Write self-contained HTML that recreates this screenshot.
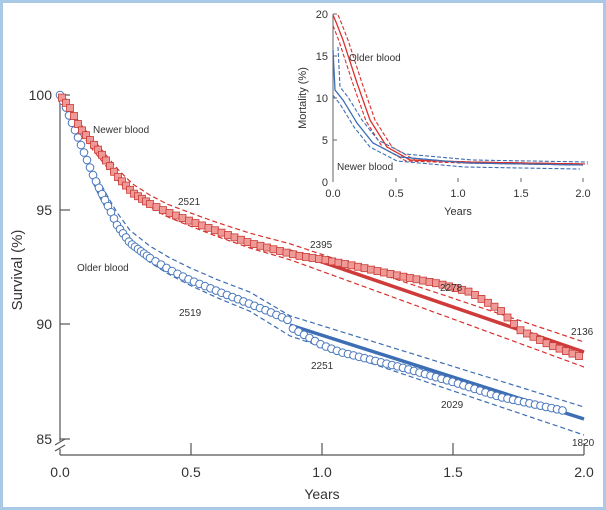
<!DOCTYPE html>
<html><head><meta charset="utf-8"><style>
html,body{margin:0;padding:0;background:#fff}
svg{display:block}
text{font-family:"Liberation Sans",sans-serif;fill:#333}
</style></head><body>
<svg id="s" width="606" height="510" xmlns="http://www.w3.org/2000/svg">
<rect x="1.5" y="1.5" width="603" height="507" fill="#fff" stroke="#a9c9e6" stroke-width="3"/>
<g stroke="#555" stroke-width="1.2" fill="none">
<line x1="60" y1="93" x2="60" y2="441"/><line x1="60" y1="449" x2="60" y2="455"/>
<line x1="60" y1="455" x2="584" y2="455"/>
<path d="M55,445 L65,439 M55,451 L65,445" />
<line x1="60" y1="95" x2="70" y2="95"/><line x1="60" y1="210" x2="70" y2="210"/>
<line x1="60" y1="324" x2="70" y2="324"/><line x1="60" y1="439" x2="70" y2="439"/>
<line x1="191" y1="455" x2="191" y2="443"/><line x1="322" y1="455" x2="322" y2="443"/>
<line x1="453" y1="455" x2="453" y2="443"/><line x1="584" y1="455" x2="584" y2="443"/>
</g>
<g font-size="14" text-anchor="end">
<text x="52" y="100">100</text><text x="52" y="215">95</text><text x="52" y="329">90</text><text x="52" y="444">85</text>
</g>
<g font-size="14" text-anchor="middle">
<text x="60" y="477">0.0</text><text x="191" y="477">0.5</text><text x="322" y="477">1.0</text><text x="453" y="477">1.5</text><text x="584" y="477">2.0</text>
<text x="322" y="499">Years</text>
</g>
<text font-size="15" text-anchor="middle" transform="translate(22,270) rotate(-90)">Survival (%)</text>
<g id="main"></g>
<g font-size="10">
<text x="93" y="133">Newer blood</text><text x="178" y="205">2521</text>
<text x="77" y="271">Older blood</text><text x="179" y="316">2519</text>
<text x="310" y="248">2395</text><text x="440" y="291">2278</text>
<text x="571" y="335">2136</text><text x="311" y="369">2251</text>
<text x="441" y="408">2029</text><text x="572" y="446">1820</text>
</g>
<g stroke="#666" stroke-width="1" fill="none">
<line x1="333" y1="14" x2="333" y2="182"/>
<line x1="333" y1="14" x2="337" y2="14"/><line x1="333" y1="56" x2="337" y2="56"/><line x1="333" y1="98" x2="337" y2="98"/><line x1="333" y1="140" x2="337" y2="140"/>
<line x1="396" y1="182" x2="396" y2="178"/><line x1="458" y1="182" x2="458" y2="178"/><line x1="521" y1="182" x2="521" y2="178"/><line x1="583" y1="182" x2="583" y2="178"/>
</g>
<g font-size="11" text-anchor="end">
<text x="328" y="18">20</text><text x="328" y="60">15</text><text x="328" y="102">10</text><text x="328" y="144">5</text><text x="328" y="186">0</text>
</g>
<g font-size="11" text-anchor="middle">
<text x="333" y="197">0.0</text><text x="396" y="197">0.5</text><text x="458" y="197">1.0</text><text x="521" y="197">1.5</text><text x="583" y="197">2.0</text>
<text x="458" y="215">Years</text>
</g>
<text font-size="11" text-anchor="middle" transform="translate(306,98) rotate(-90)">Mortality (%)</text>
<g id="inset"></g>
<g font-size="10"><text x="349" y="61">Older blood</text><text x="337" y="170">Newer blood</text></g>
</svg>
<script>
var NS="http://www.w3.org/2000/svg";
function interp(pts,x){for(var i=1;i<pts.length;i++){if(x<=pts[i][0]){var a=pts[i-1],b=pts[i],t=(x-a[0])/(b[0]-a[0]);return a[1]+t*(b[1]-a[1]);}}return pts[pts.length-1][1];}
function path(g,d,c,w,dash){var p=document.createElementNS(NS,"path");p.setAttribute("d",d);p.setAttribute("fill","none");p.setAttribute("stroke",c);p.setAttribute("stroke-width",w);if(dash)p.setAttribute("stroke-dasharray",dash);g.appendChild(p);}
function curve(pts,off,x0,x1){var s="";for(var x=x0;x<=x1;x+=2){s+=(s?"L":"M")+x+","+(interp(pts,x)+off(x)).toFixed(1);}return s;}
var m=document.getElementById("main");
var R=[[60,95],[70,108],[80,128],[90,140],[100,152],[117,176],[133,193],[150,204],[167,212],[190,221],[217,231],[250,243],[280,251],[300,256],[325,260],[350,265],[400,276],[440,284],[470,292],[500,310],[520,330],[550,345],[584,358]];
var RM=[[60,95],[70,110],[80,127],[90,141],[100,153],[117,174],[133,190],[150,201],[167,210],[190,219],[217,229],[250,240],[290,251],[584,352]];
var B=[[60,95],[65,105],[70,118],[77,135],[85,155],[93,175],[100,190],[110,210],[117,225],[130,243],[150,258],[170,270],[190,280],[217,291],[240,300],[270,312],[288,320],[292,328],[322,345],[340,352],[360,357],[400,367],[453,382],[500,397],[565,411]];
var BM=[[60,95],[65,105],[70,118],[77,135],[85,155],[93,175],[100,190],[110,208],[117,220],[130,238],[150,254],[170,266],[190,276],[217,288],[250,301],[290,325],[584,419]];
function fr(x){var t=(x-60)/524;return Math.min(1,(x-60)/30)*(5+5*t);}
path(m,curve(RM,function(x){return -fr(x);},62,584),"#d9302c",1.2,"5,3");
path(m,curve(RM,function(x){return fr(x)*(1+0.5*(x-60)/524);},62,584),"#d9302c",1.2,"5,3");
function fb(x){var t=(x-60)/524;return Math.min(1,(x-60)/30)*(7+5*t);}
path(m,curve(BM,function(x){return -fb(x);},62,584),"#3d6eb4",1.2,"5,3");
path(m,curve(BM,function(x){return fb(x)+4*(x-60)/524;},62,584),"#3d6eb4",1.2,"5,3");
path(m,"M290,251 L584,352","#cf3b3b",3.5);
path(m,"M290,325 L584,419","#3d6eb4",3.5);
for(var x=60;x<=565;x+=(x<150?3:5.5)){var c=document.createElementNS(NS,"circle");c.setAttribute("cx",x);c.setAttribute("cy",interp(B,x));c.setAttribute("r",3.8);c.setAttribute("fill","#fff");c.setAttribute("stroke","#4a78bd");c.setAttribute("stroke-width",1);m.appendChild(c);}
for(var x=62;x<=584;x+=(x<150?4:6.5)){var r=document.createElementNS(NS,"rect");r.setAttribute("x",x-3.5);r.setAttribute("y",interp(R,x)-3.5);r.setAttribute("width",7);r.setAttribute("height",7);r.setAttribute("fill","#ef9a96");r.setAttribute("stroke","#c93a36");r.setAttribute("stroke-width",0.8);m.appendChild(r);}
var g=document.getElementById("inset");
var IR=[[333,15],[336,22],[343,40],[357,83],[370,120],[387,147],[410,160],[467,162],[583,164]];
var IB=[[333,50],[335,90],[343,100],[357,123],[373,143],[400,157],[467,163],[583,165]];
function ic(P,dx,dy){var s="";for(var x=333;x<=583;x+=1){var xx=x+dx;if(xx<333)continue;s+=(s?"L":"M")+xx+","+(interp(P,x)+dy).toFixed(1);}return s;}
path(g,ic(IR,0,0),"#d9302c",1.3);path(g,ic(IR,5,0),"#d9302c",1.1,"4,2");path(g,ic(IR,-4,1),"#d9302c",1.1,"4,2");
path(g,ic(IB,0,0),"#3d6eb4",1.3);path(g,ic(IB,5,-3),"#3d6eb4",1.1,"4,2");path(g,ic(IB,-3,4),"#3d6eb4",1.1,"4,2");
</script>
</body></html>
